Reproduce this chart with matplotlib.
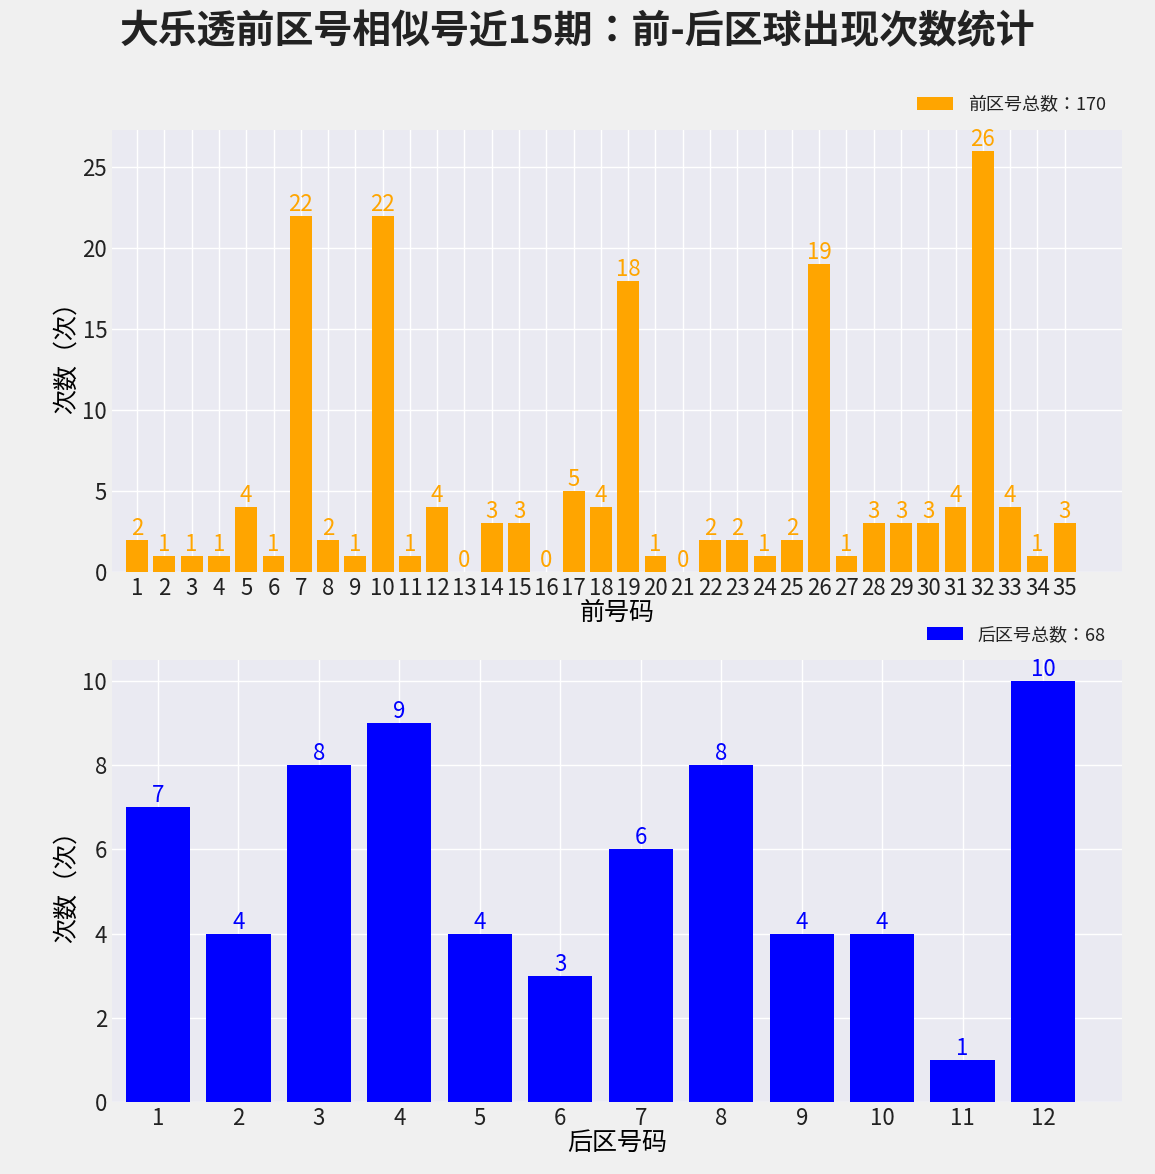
import matplotlib
matplotlib.use("Agg")
import matplotlib.pyplot as plt
from matplotlib import font_manager as fm

fam = "DejaVu Sans"
for f in fm.findSystemFonts():
    if "NotoSansCJK" in f.replace(" ", "") or "NotoSansCJK" in f:
        try:
            fm.fontManager.addfont(f)
            name = fm.FontProperties(fname=f).get_name()
            if "SC" in name or fam == "DejaVu Sans":
                fam = name
        except Exception:
            pass
plt.rcParams["font.family"] = [fam, "Noto Sans CJK SC", "Noto Sans CJK JP", "DejaVu Sans"]
plt.rcParams["axes.unicode_minus"] = False
plt.rcParams["text.color"] = "#222222"

front_nums = list(range(1, 36))
front_counts = [2,1,1,1,4,1,22,2,1,22,1,4,0,3,3,0,5,4,18,1,0,2,2,1,2,19,1,3,3,3,4,26,4,1,3]
back_nums = list(range(1, 13))
back_counts = [7,4,8,9,4,3,6,8,4,4,1,10]

fig = plt.figure(figsize=(11.55, 11.74), dpi=100, facecolor="#f0f0f0")
ax1 = fig.add_axes([112/1155, 1-572/1174, 1010/1155, 442/1174])
ax2 = fig.add_axes([112/1155, 1-1102/1174, 1010/1155, 442/1174])

def style(ax):
    ax.set_facecolor("#eaeaf2")
    ax.grid(True, color="white", linewidth=1)
    ax.set_axisbelow(True)
    for s in ax.spines.values():
        s.set_visible(False)
    ax.tick_params(length=0, labelsize=16, colors="#222222")

style(ax1)
ax1.bar(front_nums, front_counts, color="orange", label=f"前区号总数：{sum(front_counts)}")
for x, v in zip(front_nums, front_counts):
    ax1.text(x, v, str(v), ha="center", va="bottom", color="orange", fontsize=16)
ax1.set_xticks(front_nums)
ax1.set_xlim(0.08, 37.1)
ax1.set_ylim(0, 27.3)
ax1.set_xlabel("前号码", fontsize=18, labelpad=0)
ax1.set_ylabel("次数（次）", fontsize=18, labelpad=2)
ax1.legend(loc="lower right", bbox_to_anchor=(1.0, 1.0), frameon=False, fontsize=13)

style(ax2)
ax2.bar(back_nums, back_counts, color="blue", label=f"后区号总数：{sum(back_counts)}")
for x, v in zip(back_nums, back_counts):
    ax2.text(x, v, str(v), ha="center", va="bottom", color="blue", fontsize=16)
ax2.set_xticks(back_nums)
ax2.set_xlim(0.43, 12.98)
ax2.set_ylim(0, 10.5)
ax2.set_xlabel("后区号码", fontsize=18, labelpad=0)
ax2.set_ylabel("次数（次）", fontsize=18, labelpad=2)
ax2.legend(loc="lower right", bbox_to_anchor=(1.0, 1.0), frameon=False, fontsize=13)

fig.suptitle("大乐透前区号相似号近15期：前-后区球出现次数统计", fontsize=28, y=0.99, fontweight="bold", color="#222222")
fig.savefig("out.png", dpi=100, facecolor=fig.get_facecolor())
